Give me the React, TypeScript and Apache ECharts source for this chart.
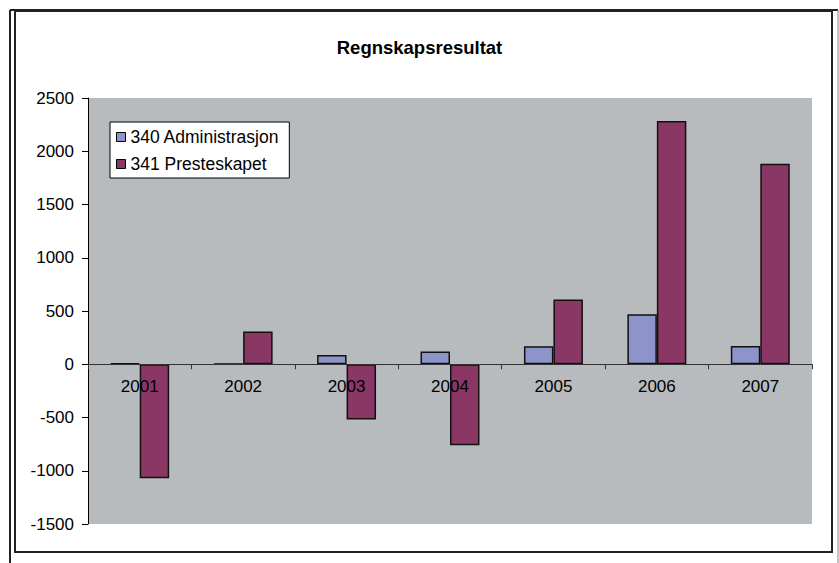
import React, { useEffect, useRef } from "react";
import * as echarts from "echarts";

const categories = ["2001", "2002", "2003", "2004", "2005", "2006", "2007"];
const adminValues = [8, 6, 87, 120, 170, 470, 172];
const presteValues = [-1070, 308, -518, -760, 607, 2283, 1883];
const seriesNames = ["340 Administrasjon", "341 Presteskapet"];
const yTicks = { min: -1500, max: 2500, interval: 500 };

export default function App() {
  const ref = useRef<HTMLDivElement>(null);
  useEffect(() => {
    if (!ref.current) return;
    const chart = echarts.init(ref.current, undefined, { renderer: "svg" });
    const font = "'Liberation Sans', Arial, sans-serif";
    const gridTop = 98;
    const gridBottom = 39;
    const plotH = 563 - gridTop - gridBottom;
    const zeroOffset = (yTicks.max / (yTicks.max - yTicks.min)) * plotH;
    const labelMargin = -(plotH - zeroOffset) + 14;
    chart.setOption({
      animation: false,
      backgroundColor: "#ffffff",
      title: {
        text: "Regnskapsresultat",
        left: "center",
        top: 33,
        textStyle: { fontFamily: font, fontSize: 18.5, fontWeight: "bold", color: "#000" },
      },
      legend: {
        orient: "vertical",
        left: 110,
        top: 122,
        backgroundColor: "#ffffff",
        borderColor: "#000",
        borderWidth: 1,
        borderRadius: 0,
        padding: [6, 10, 5, 6],
        itemWidth: 9,
        itemHeight: 9,
        itemGap: 9,
        icon: "rect",
        itemStyle: { borderColor: "#000", borderWidth: 1 },
        textStyle: { fontFamily: font, fontSize: 17.5, color: "#000" },
        data: seriesNames,
      },
      grid: {
        left: 88,
        right: 27,
        top: gridTop,
        bottom: gridBottom,
        show: true,
        backgroundColor: "#b8bbbe",
        borderWidth: 0,
      },
      xAxis: {
        type: "category",
        data: categories,
        z: 10,
        axisLine: { onZero: true, lineStyle: { color: "#333", width: 1 } },
        axisTick: { show: true, length: 5, lineStyle: { color: "#333" } },
        axisLabel: { fontFamily: font, fontSize: 17, color: "#000", margin: labelMargin },
        splitLine: { show: false },
      },
      yAxis: {
        type: "value",
        min: yTicks.min,
        max: yTicks.max,
        interval: yTicks.interval,
        axisLine: { show: true, lineStyle: { color: "#000", width: 1 } },
        axisTick: { show: true, length: 6, lineStyle: { color: "#000" } },
        axisLabel: {
          fontFamily: font,
          fontSize: 17,
          color: "#000",
          margin: 14,
          formatter: (v: number) => String(v),
        },
        splitLine: { show: false },
      },
      series: [
        {
          name: seriesNames[0],
          type: "bar",
          data: adminValues,
          barGap: "0%",
          barCategoryGap: "43%",
          itemStyle: { color: "#8c94c9", borderColor: "#111", borderWidth: 1.5 },
        },
        {
          name: seriesNames[1],
          type: "bar",
          data: presteValues,
          barGap: "0%",
          barCategoryGap: "43%",
          itemStyle: { color: "#8b3766", borderColor: "#111", borderWidth: 1.5 },
        },
      ],
      graphic: [
        {
          type: "rect",
          shape: { x: 15, y: 11, width: 817, height: 541 },
          style: { fill: "none", stroke: "#222", lineWidth: 2 },
          silent: true,
        },
        {
          type: "line",
          shape: { x1: 10, y1: 10, x2: 10, y2: 563 },
          style: { stroke: "#222", lineWidth: 2 },
          silent: true,
        },
        {
          type: "line",
          shape: { x1: 10, y1: 10, x2: 838, y2: 10 },
          style: { stroke: "#222", lineWidth: 2 },
          silent: true,
        },
        {
          type: "line",
          shape: { x1: 838, y1: 10, x2: 838, y2: 563 },
          style: { stroke: "#888", lineWidth: 1 },
          silent: true,
        },
      ],
    });
    return () => chart.dispose();
  }, []);
  return (
    <div
      ref={ref}
      style={{ position: "fixed", left: 0, top: 0, width: 839, height: 563 }}
    />
  );
}
